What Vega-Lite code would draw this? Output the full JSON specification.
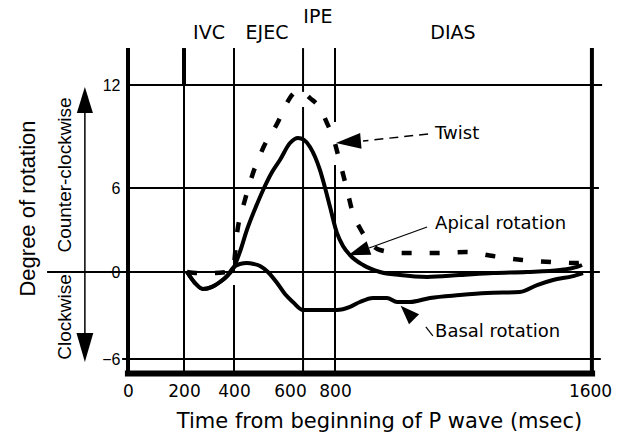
{
  "$schema": "https://vega.github.io/schema/vega-lite/v6.json",
  "width": 462,
  "height": 325,
  "autosize": {"type": "none"},
  "padding": {"left": 128, "top": 48, "right": 29, "bottom": 61},
  "background": "white",
  "config": {"view": {"stroke": null}, "font": "DejaVu Sans"},
  "datasets": {
    "hlines": [
      {"x": 0, "x2": 1638, "y": 12},
      {"x": 0, "x2": 1628, "y": 6},
      {"x": -289, "x2": 1631, "y": 0},
      {"x": -21, "x2": 1634, "y": -6}
    ],
    "vthin": [
      {"x": 200, "y": 14.15, "y2": -7},
      {"x": 400, "y": 14.15, "y2": 0},
      {"x": 400, "y": -0.9, "y2": -7},
      {"x": 658, "y": 14.15, "y2": 11.6},
      {"x": 658, "y": 10.72, "y2": -7},
      {"x": 800, "y": 14.15, "y2": 9.84},
      {"x": 800, "y": 7.34, "y2": -7}
    ],
    "vthick": [
      {"x": 0, "y": 14.15, "y2": -7},
      {"x": 1606, "y": 14.15, "y2": -7},
      {"x": 200, "y": 14.15, "y2": 12}
    ],
    "bottom": [
      {"x": -11, "x2": 1616, "y": -7}
    ],
    "solid": [
      {"series": "Apical", "x": 212, "y": 0},
      {"series": "Apical", "x": 244, "y": -0.76},
      {"series": "Apical", "x": 276, "y": -1.17},
      {"series": "Apical", "x": 312, "y": -1.03},
      {"series": "Apical", "x": 344, "y": -0.69},
      {"series": "Apical", "x": 372, "y": -0.28},
      {"series": "Apical", "x": 396, "y": 0.21},
      {"series": "Apical", "x": 421, "y": 1.43},
      {"series": "Apical", "x": 446, "y": 3.0},
      {"series": "Apical", "x": 475, "y": 4.5},
      {"series": "Apical", "x": 504, "y": 5.86},
      {"series": "Apical", "x": 536, "y": 6.93},
      {"series": "Apical", "x": 564, "y": 7.63},
      {"series": "Apical", "x": 600, "y": 8.62},
      {"series": "Apical", "x": 636, "y": 8.91},
      {"series": "Apical", "x": 662, "y": 8.8},
      {"series": "Apical", "x": 689, "y": 8.39},
      {"series": "Apical", "x": 733, "y": 7.05},
      {"series": "Apical", "x": 756, "y": 6.0},
      {"series": "Apical", "x": 778, "y": 4.64},
      {"series": "Apical", "x": 806, "y": 2.79},
      {"series": "Apical", "x": 825, "y": 1.86},
      {"series": "Apical", "x": 847, "y": 1.21},
      {"series": "Apical", "x": 888, "y": 0.5},
      {"series": "Apical", "x": 941, "y": 0},
      {"series": "Apical", "x": 1004, "y": -0.21},
      {"series": "Apical", "x": 1089, "y": -0.34},
      {"series": "Apical", "x": 1192, "y": -0.21},
      {"series": "Apical", "x": 1296, "y": -0.07},
      {"series": "Apical", "x": 1402, "y": 0},
      {"series": "Apical", "x": 1506, "y": 0.14},
      {"series": "Apical", "x": 1559, "y": 0.36},
      {"series": "Apical", "x": 1575, "y": 0.5},
      {"series": "Basal", "x": 212, "y": 0},
      {"series": "Basal", "x": 244, "y": -0.76},
      {"series": "Basal", "x": 276, "y": -1.17},
      {"series": "Basal", "x": 312, "y": -1.03},
      {"series": "Basal", "x": 344, "y": -0.69},
      {"series": "Basal", "x": 372, "y": -0.28},
      {"series": "Basal", "x": 396, "y": 0.29},
      {"series": "Basal", "x": 421, "y": 0.57},
      {"series": "Basal", "x": 446, "y": 0.64},
      {"series": "Basal", "x": 471, "y": 0.57},
      {"series": "Basal", "x": 493, "y": 0.43},
      {"series": "Basal", "x": 521, "y": 0},
      {"series": "Basal", "x": 554, "y": -0.76},
      {"series": "Basal", "x": 582, "y": -1.52},
      {"series": "Basal", "x": 613, "y": -2.07},
      {"series": "Basal", "x": 658, "y": -2.62},
      {"series": "Basal", "x": 733, "y": -2.62},
      {"series": "Basal", "x": 806, "y": -2.62},
      {"series": "Basal", "x": 847, "y": -2.41},
      {"series": "Basal", "x": 878, "y": -2.07},
      {"series": "Basal", "x": 919, "y": -1.79},
      {"series": "Basal", "x": 963, "y": -1.79},
      {"series": "Basal", "x": 995, "y": -2.07},
      {"series": "Basal", "x": 1035, "y": -2.07},
      {"series": "Basal", "x": 1098, "y": -1.79},
      {"series": "Basal", "x": 1192, "y": -1.59},
      {"series": "Basal", "x": 1277, "y": -1.45},
      {"series": "Basal", "x": 1380, "y": -1.38},
      {"series": "Basal", "x": 1434, "y": -0.9},
      {"series": "Basal", "x": 1484, "y": -0.55},
      {"series": "Basal", "x": 1547, "y": -0.28},
      {"series": "Basal", "x": 1578, "y": -0.07}
    ],
    "twist": [
      {"x": 212, "y": 0},
      {"x": 252, "y": -0.07},
      {"x": 316, "y": -0.07},
      {"x": 372, "y": 0},
      {"x": 396, "y": 0.21},
      {"x": 411, "y": 2.79},
      {"x": 439, "y": 5.14},
      {"x": 468, "y": 6.87},
      {"x": 504, "y": 8.33},
      {"x": 557, "y": 9.84},
      {"x": 589, "y": 10.95},
      {"x": 609, "y": 11.42},
      {"x": 636, "y": 11.65},
      {"x": 658, "y": 11.59},
      {"x": 689, "y": 11.24},
      {"x": 733, "y": 10.66},
      {"x": 764, "y": 9.79},
      {"x": 791, "y": 8.97},
      {"x": 816, "y": 7.46},
      {"x": 838, "y": 5.86},
      {"x": 856, "y": 4.21},
      {"x": 878, "y": 3.14},
      {"x": 910, "y": 2.07},
      {"x": 941, "y": 1.57},
      {"x": 1004, "y": 1.36},
      {"x": 1120, "y": 1.36},
      {"x": 1211, "y": 1.43},
      {"x": 1296, "y": 1.14},
      {"x": 1387, "y": 0.86},
      {"x": 1481, "y": 0.71},
      {"x": 1562, "y": 0.64},
      {"x": 1584, "y": 0.71},
      {"x": 1594, "y": 0.5}
    ],
    "phases": [
      {"label": "IVC", "x": 300, "y": 15.03},
      {"label": "EJEC", "x": 518, "y": 15.03},
      {"label": "IPE", "x": 724, "y": 15.96},
      {"label": "DIAS", "x": 1170, "y": 15.03}
    ],
    "notes": [
      {"label": "Twist", "x": 1114, "y": 9.15},
      {"label": "Apical rotation", "x": 1114, "y": 3.43},
      {"label": "Basal rotation", "x": 1114, "y": -4.14}
    ],
    "sides": [
      {"label": "Counter-clockwise", "x": -225, "y": 6.76},
      {"label": "Clockwise", "x": -225, "y": -3.1}
    ],
    "leaderDashed": [
      {"x": 1092, "y": 9.15, "x2": 888, "y2": 8.74}
    ],
    "leaderSolid": [
      {"x": 1089, "y": 3.21, "x2": 907, "y2": 1.71},
      {"x": 1085, "y": -3.79, "x2": 1107, "y2": -4.41}
    ],
    "yArrow": [
      {"x": -154, "y": 11.13, "y2": -5.17}
    ],
    "headTwist": [{"x": 842, "y": 8.68}],
    "headApical": [{"x": 874, "y": 1.46}],
    "headBasal": [{"x": 1027, "y": -2.79}],
    "headUp": [{"x": -154, "y": 11.13}],
    "headDown": [{"x": -154, "y": -5.21}]
  },
  "encoding": {
    "x": {
      "field": "x",
      "type": "quantitative",
      "scale": {"domain": [0, 200, 400, 600, 800, 1600], "range": [0, 56, 106, 162, 207, 462], "nice": false, "zero": false},
      "axis": {
        "values": [0, 200, 400, 600, 800, 1600],
        "format": "d",
        "ticks": false,
        "domain": false,
        "grid": false,
        "labelFont": "DejaVu Sans",
        "labelFontSize": 17,
        "labelColor": "black",
        "labelPadding": 10,
        "labelFlush": false,
        "labelOverlap": false,
        "title": "Time from beginning of P wave (msec)",
        "titleFont": "DejaVu Sans",
        "titleFontSize": 21,
        "titleFontWeight": "normal",
        "titleColor": "black",
        "titleX": 251,
        "titleY": 48,
        "titleAlign": "center",
        "titleBaseline": "middle"
      }
    },
    "y": {
      "field": "y",
      "type": "quantitative",
      "scale": {"domain": [-6, 0, 6, 12], "range": [311, 224, 140, 37], "nice": false, "zero": false},
      "axis": {
        "values": [-6, 0, 6, 12],
        "ticks": false,
        "domain": false,
        "grid": false,
        "labelFont": "Liberation Sans",
        "labelFontSize": 16,
        "labelColor": "black",
        "labelPadding": 8,
        "labelFlush": false,
        "labelOverlap": false,
        "title": "Degree of rotation",
        "titleFont": "Liberation Sans",
        "titleFontSize": 22,
        "titleFontWeight": "normal",
        "titleColor": "black",
        "titleAngle": 270,
        "titleX": -101,
        "titleY": 160,
        "titleAlign": "center",
        "titleBaseline": "middle"
      }
    }
  },
  "layer": [
    {"data": {"name": "hlines"}, "mark": {"type": "rule", "color": "black", "strokeWidth": 2}, "encoding": {"x2": {"field": "x2"}}},
    {"data": {"name": "vthin"}, "mark": {"type": "rule", "color": "black", "strokeWidth": 2}, "encoding": {"y2": {"field": "y2"}}},
    {"data": {"name": "vthick"}, "mark": {"type": "rule", "color": "black", "strokeWidth": 4}, "encoding": {"y2": {"field": "y2"}}},
    {"data": {"name": "bottom"}, "mark": {"type": "rule", "color": "black", "strokeWidth": 6}, "encoding": {"x2": {"field": "x2"}}},
    {"data": {"name": "twist"}, "mark": {"type": "line", "color": "black", "strokeWidth": 4.5, "strokeDash": [10, 18], "interpolate": "monotone"}, "encoding": {}},
    {"data": {"name": "solid"}, "mark": {"type": "line", "color": "black", "strokeWidth": 4, "interpolate": "monotone"}, "encoding": {"detail": {"field": "series"}}},
    {"data": {"name": "leaderDashed"}, "mark": {"type": "rule", "color": "black", "strokeWidth": 1.5, "strokeDash": [9, 6]}, "encoding": {"x2": {"field": "x2"}, "y2": {"field": "y2"}}},
    {"data": {"name": "leaderSolid"}, "mark": {"type": "rule", "color": "black", "strokeWidth": 1.2}, "encoding": {"x2": {"field": "x2"}, "y2": {"field": "y2"}}},
    {"data": {"name": "yArrow"}, "mark": {"type": "rule", "color": "black", "strokeWidth": 1.5}, "encoding": {"y2": {"field": "y2"}}},
    {"data": {"name": "headTwist"}, "mark": {"type": "point", "shape": "M-1,0L1,-0.64L1,0.64Z", "size": 625, "angle": 355, "filled": true, "color": "black", "opacity": 1}, "encoding": {}},
    {"data": {"name": "headApical"}, "mark": {"type": "point", "shape": "M-1,0L1,-0.65L1,0.65Z", "size": 484, "angle": 341, "filled": true, "color": "black", "opacity": 1}, "encoding": {}},
    {"data": {"name": "headBasal"}, "mark": {"type": "point", "shape": "M-1,0L1,-0.75L1,0.75Z", "size": 361, "angle": 45, "filled": true, "color": "black", "opacity": 1}, "encoding": {}},
    {"data": {"name": "headUp"}, "mark": {"type": "point", "shape": "M0,-1L0.62,1L-0.62,1Z", "size": 676, "filled": true, "color": "black", "opacity": 1}, "encoding": {}},
    {"data": {"name": "headDown"}, "mark": {"type": "point", "shape": "M0,1L0.58,-1L-0.58,-1Z", "size": 841, "filled": true, "color": "black", "opacity": 1}, "encoding": {}},
    {"data": {"name": "phases"}, "mark": {"type": "text", "font": "DejaVu Sans", "fontSize": 19, "color": "black", "align": "center", "baseline": "middle"}, "encoding": {"text": {"field": "label"}}},
    {"data": {"name": "notes"}, "mark": {"type": "text", "font": "DejaVu Sans", "fontSize": 18, "color": "black", "align": "left", "baseline": "middle"}, "encoding": {"text": {"field": "label"}}},
    {"data": {"name": "sides"}, "mark": {"type": "text", "font": "Liberation Sans", "fontSize": 19, "color": "black", "align": "center", "baseline": "middle", "angle": 270}, "encoding": {"text": {"field": "label"}}}
  ]
}
